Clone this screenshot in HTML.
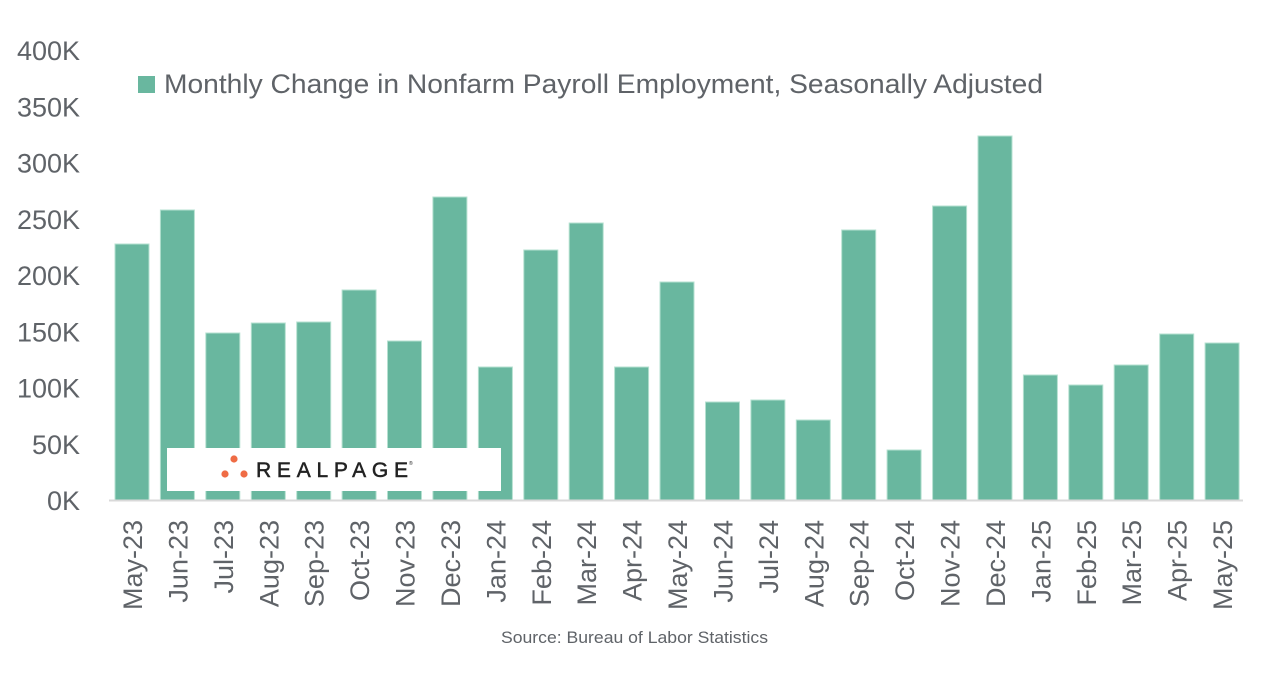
<!DOCTYPE html>
<html>
<head>
<meta charset="utf-8">
<style>
  html, body { margin: 0; padding: 0; background: #ffffff; }
  svg { display: block; }
  text { font-family: "Liberation Sans", Arial, sans-serif; }
</style>
</head>
<body>
<svg width="1280" height="679" viewBox="0 0 1280 679" xmlns="http://www.w3.org/2000/svg">
  <rect x="0" y="0" width="1280" height="679" fill="#ffffff"/>

  <!-- Y axis labels -->
  <g fill="#5f6368" font-size="27" text-anchor="end">
    <text x="80" y="60">400K</text>
    <text x="80" y="116.25">350K</text>
    <text x="80" y="172.5">300K</text>
    <text x="80" y="228.75">250K</text>
    <text x="80" y="285">200K</text>
    <text x="80" y="341.25">150K</text>
    <text x="80" y="397.5">100K</text>
    <text x="80" y="453.75">50K</text>
    <text x="80" y="510">0K</text>
  </g>

  <!-- Legend -->
  <rect x="138" y="76" width="17" height="17" fill="#69b79f"/>
  <text x="164" y="93" font-size="27" fill="#5f6368" textLength="879" lengthAdjust="spacingAndGlyphs">Monthly Change in Nonfarm Payroll Employment, Seasonally Adjusted</text>

  <!-- Bars -->
  <g fill="#69b79f" stroke="#b5e0d0" stroke-width="1">
    <rect x="115.0" y="244" width="34" height="256"/>
    <rect x="160.4" y="210" width="34" height="290"/>
    <rect x="205.8" y="333" width="34" height="167"/>
    <rect x="251.3" y="323" width="34" height="177"/>
    <rect x="296.7" y="322" width="34" height="178"/>
    <rect x="342.1" y="290" width="34" height="210"/>
    <rect x="387.5" y="341" width="34" height="159"/>
    <rect x="432.9" y="197" width="34" height="303"/>
    <rect x="478.4" y="367" width="34" height="133"/>
    <rect x="523.8" y="250" width="34" height="250"/>
    <rect x="569.2" y="223" width="34" height="277"/>
    <rect x="614.6" y="367" width="34" height="133"/>
    <rect x="660.0" y="282" width="34" height="218"/>
    <rect x="705.5" y="402" width="34" height="98"/>
    <rect x="750.9" y="400" width="34" height="100"/>
    <rect x="796.3" y="420" width="34" height="80"/>
    <rect x="841.7" y="230" width="34" height="270"/>
    <rect x="887.1" y="450" width="34" height="50"/>
    <rect x="932.6" y="206" width="34" height="294"/>
    <rect x="978.0" y="136" width="34" height="364"/>
    <rect x="1023.4" y="375" width="34" height="125"/>
    <rect x="1068.8" y="385" width="34" height="115"/>
    <rect x="1114.2" y="365" width="34" height="135"/>
    <rect x="1159.7" y="334" width="34" height="166"/>
    <rect x="1205.1" y="343" width="34" height="157"/>
  </g>

  <!-- Baseline axis -->
  <line x1="109" y1="500.5" x2="1243" y2="500.5" stroke="#d9d9d9" stroke-width="2"/>

  <!-- Logo box -->
  <rect x="167" y="448" width="334" height="43" fill="#ffffff"/>
  <g fill="#ef6c45">
    <circle cx="234" cy="459" r="3.6"/>
    <circle cx="225" cy="474" r="3.6"/>
    <circle cx="244" cy="474" r="3.6"/>
  </g>
  <text x="256" y="477" font-size="21" fill="#222222" stroke="#222222" stroke-width="0.5" textLength="152" lengthAdjust="spacing">REALPAGE</text>
  <text x="409" y="465" font-size="5" fill="#222222">®</text>

  <!-- X axis labels -->
  <g fill="#5f6368" font-size="27" text-anchor="end">
    <text transform="translate(142,520) rotate(-90)">May-23</text>
    <text transform="translate(187.4,520) rotate(-90)">Jun-23</text>
    <text transform="translate(232.8,520) rotate(-90)">Jul-23</text>
    <text transform="translate(278.3,520) rotate(-90)">Aug-23</text>
    <text transform="translate(323.7,520) rotate(-90)">Sep-23</text>
    <text transform="translate(369.1,520) rotate(-90)">Oct-23</text>
    <text transform="translate(414.5,520) rotate(-90)">Nov-23</text>
    <text transform="translate(459.9,520) rotate(-90)">Dec-23</text>
    <text transform="translate(505.4,520) rotate(-90)">Jan-24</text>
    <text transform="translate(550.8,520) rotate(-90)">Feb-24</text>
    <text transform="translate(596.2,520) rotate(-90)">Mar-24</text>
    <text transform="translate(641.6,520) rotate(-90)">Apr-24</text>
    <text transform="translate(687.0,520) rotate(-90)">May-24</text>
    <text transform="translate(732.5,520) rotate(-90)">Jun-24</text>
    <text transform="translate(777.9,520) rotate(-90)">Jul-24</text>
    <text transform="translate(823.3,520) rotate(-90)">Aug-24</text>
    <text transform="translate(868.7,520) rotate(-90)">Sep-24</text>
    <text transform="translate(914.1,520) rotate(-90)">Oct-24</text>
    <text transform="translate(959.6,520) rotate(-90)">Nov-24</text>
    <text transform="translate(1005.0,520) rotate(-90)">Dec-24</text>
    <text transform="translate(1050.4,520) rotate(-90)">Jan-25</text>
    <text transform="translate(1095.8,520) rotate(-90)">Feb-25</text>
    <text transform="translate(1141.2,520) rotate(-90)">Mar-25</text>
    <text transform="translate(1186.7,520) rotate(-90)">Apr-25</text>
    <text transform="translate(1232.1,520) rotate(-90)">May-25</text>
  </g>

  <!-- Source -->
  <text x="501" y="643" font-size="16.5" fill="#5f6368" textLength="267" lengthAdjust="spacingAndGlyphs">Source: Bureau of Labor Statistics</text>
</svg>
</body>
</html>
